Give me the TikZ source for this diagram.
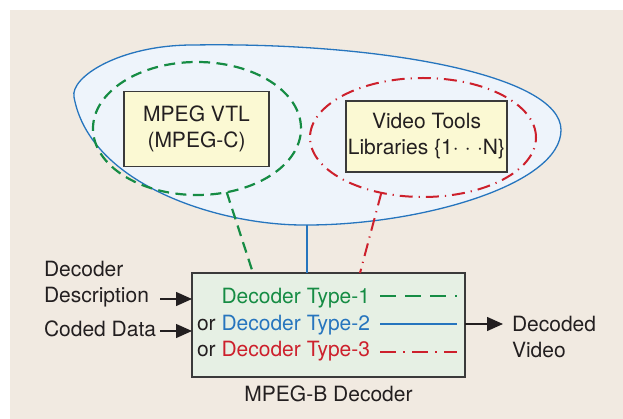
\documentclass[tikz,border=0pt]{standalone}
\usepackage{fontspec}
\setmainfont{TeX Gyre Heros}
\usetikzlibrary{arrows.meta,shapes.geometric,calc}
\definecolor{bg}{HTML}{F1EAE1}
\definecolor{blobfill}{HTML}{EEF4FB}
\definecolor{dblue}{HTML}{2675BE}
\definecolor{dgreen}{HTML}{168C44}
\definecolor{dred}{HTML}{CD202C}
\definecolor{yfill}{HTML}{FBF9D3}
\definecolor{gfill}{HTML}{E6F0E4}
\definecolor{ink}{HTML}{231F20}
\definecolor{edge}{HTML}{3A3A3A}
\tikzset{
  lbl/.style={text=ink, inner sep=0pt, outer sep=0pt},
  ybox/.style={draw=edge, line width=1.4pt, fill=yfill, text=ink, align=center, inner sep=0pt, outer sep=0pt},
  gbox/.style={draw=edge, line width=1.4pt, fill=gfill, inner sep=0pt, outer sep=0pt},
  gell/.style={ellipse, draw=dgreen, line width=2.2pt, dash pattern=on 11pt off 6.5pt, inner sep=0pt, outer sep=0pt},
  rell/.style={ellipse, draw=dred, line width=2pt, dash pattern=on 13pt off 6pt on 1.2pt off 6pt, inner sep=0pt, outer sep=0pt},
  gconn/.style={draw=dgreen, line width=2.2pt, dash pattern=on 11pt off 6.5pt},
  rconn/.style={draw=dred, line width=2pt, dash pattern=on 13pt off 6pt on 1.2pt off 6pt},
  bconn/.style={draw=dblue, line width=1.3pt},
  gleg/.style={draw=dgreen, line width=2pt, dash pattern=on 16pt off 9pt},
  rleg/.style={draw=dred, line width=2pt, dash pattern=on 16pt off 7pt on 1.5pt off 7.5pt},
  bleg/.style={draw=dblue, line width=1.3pt},
  arr/.style={draw=ink, line width=1.3pt, -{Triangle[length=16pt,width=14pt]}},
}
\begin{document}
\begin{tikzpicture}[x=1pt,y=-1pt, font=\fontsize{21}{26}\selectfont]
\useasboundingbox (0,0) rectangle (623,419);
\fill[bg] (10,10) rectangle (623,419);
% outer blob
\draw[draw=dblue, line width=1.3pt, fill=blobfill]
  (74,97) .. controls (70,77) and (120,45) .. (193,45)
          .. controls (380,42) and (561,75) .. (561,130)
          .. controls (561,185) and (420,225) .. (307,225)
          .. controls (220,226) and (90,185) .. cycle;
\coordinate (blobbot) at (307,225);
% dashed groupings
\node[gell, minimum width=208pt, minimum height=133pt] (ge) at (197,128.5) {};
\node[rell, minimum width=226pt, minimum height=119pt] (re) at (423,137.5) {};
% library boxes
\node[ybox, minimum width=145pt, minimum height=75pt] (vtl) at (196.5,129) {MPEG VTL\\(MPEG-C)};
\node[ybox, minimum width=161pt, minimum height=71pt] (vtools) at (426.5,136.5) {Video Tools\\Libraries \{1·\hspace{0.3em}·\hspace{0.3em}·N\}};
% decoder box
\node[gbox, minimum width=273pt, minimum height=104pt] (dec) at (328.5,325) {};
% connectors
\draw[gconn] (ge.-65) -- ($(dec.north west)+(61,0)$);
\draw[bconn] (blobbot) -- (blobbot |- dec.north);
\draw[rconn] (re.-127) -- ($(dec.north west)+(168,0)$);
% decoder type lines
\node[lbl, anchor=base east] (t1) at (370,303) {\color{dgreen}Decoder Type-1};
\node[lbl, anchor=base east] (t2) at (370,330) {or \color{dblue}Decoder Type-2};
\node[lbl, anchor=base east] (t3) at (370,356.5) {or \color{dred}Decoder Type-3};
\draw[gleg] ($(t1.base east)+(10,-7)$) -- ++(77,0);
\draw[bleg] ($(t2.base east)+(10,-6)$) -- ++(77,0);
\draw[rleg] ($(t3.base east)+(10,-5)$) -- ++(77,0);
% caption
\node[lbl, anchor=base] (mpegb) at (328.5,401) {MPEG-B Decoder};
% inputs
\node[lbl, anchor=base west] (dd1) at (44,277) {Decoder};
\node[lbl, anchor=base west] (dd2) at (44,302.5) {Description};
\node[lbl, anchor=base west] (cd) at (44,336) {Coded Data};
\coordinate (in1) at (160,299);
\coordinate (in2) at (160,331);
\draw[arr] (in1) -- (in1 -| dec.west);
\draw[arr] (in2) -- (in2 -| dec.west);
% output
\node[lbl, anchor=base west] (ov1) at (512,331) {Decoded};
\node[lbl, anchor=base west] (ov2) at (512,357) {Video};
\coordinate (out) at (503,324);
\draw[arr] (dec.east |- out) -- (out);
\end{tikzpicture}
\end{document}
